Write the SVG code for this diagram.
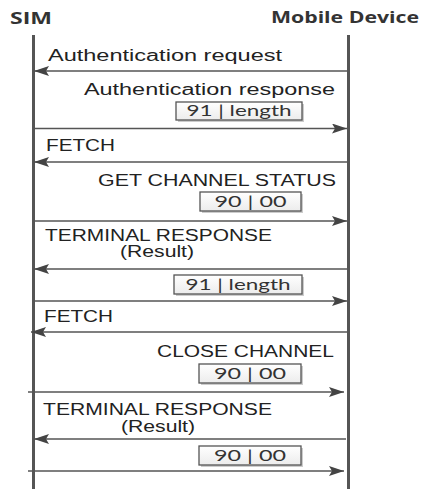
<svg xmlns="http://www.w3.org/2000/svg" width="425" height="489" viewBox="0 0 425 489">
<defs>
<marker id="ah" markerUnits="userSpaceOnUse" markerWidth="16" markerHeight="12" refX="15" refY="5" orient="auto">
<path d="M0,0 L15,5 L0,10 L3,5 z" fill="#444"/>
</marker>
<linearGradient id="bg" x1="0" y1="0" x2="0" y2="1">
<stop offset="0" stop-color="#ffffff"/>
<stop offset="1" stop-color="#ececec"/>
</linearGradient>
<style>
.hd{font-family:"Open Sans","DejaVu Sans",sans-serif;font-weight:700;font-size:16px;fill:#333}
.lbl{font-family:"Liberation Sans",Arial,sans-serif;font-size:16px;fill:#222}
.bx{font-family:Lato,"Liberation Sans",sans-serif;font-size:15px;fill:#333}
.life{stroke:#555;stroke-width:3}
.msg{stroke:#555;stroke-width:1.6;fill:none;marker-end:url(#ah)}
.box{fill:url(#bg);stroke:#555;stroke-width:1.3}
.sh{fill:#ccc}
</style>
</defs>
<rect width="425" height="489" fill="#fff"/>
<g id="sim">
<text class="hd" x="10" y="24" textLength="42" lengthAdjust="spacingAndGlyphs">SIM</text>
<line class="life" x1="33.5" y1="35" x2="33.5" y2="489"/>
</g>
<g id="mobile">
<text class="hd" x="271" y="23" textLength="148" lengthAdjust="spacingAndGlyphs">Mobile Device</text>
<line class="life" x1="348.5" y1="35" x2="348.5" y2="489"/>
</g>
<g id="connectors">
<line class="msg" x1="347" y1="71" x2="34" y2="71"/>
<line class="msg" x1="34" y1="128.5" x2="347" y2="128.5"/>
<line class="msg" x1="347" y1="162" x2="34" y2="162"/>
<line class="msg" x1="34" y1="221" x2="347" y2="221"/>
<line class="msg" x1="347" y1="269" x2="34" y2="269"/>
<line class="msg" x1="34" y1="301" x2="347" y2="301"/>
<line class="msg" x1="347" y1="332" x2="31" y2="332"/>
<line class="msg" x1="28" y1="392" x2="344" y2="392"/>
<line class="msg" x1="346" y1="439" x2="34" y2="439"/>
<line class="msg" x1="28" y1="471" x2="344" y2="471"/>
</g>
<g id="labels">
<text class="lbl" x="48" y="61" textLength="234" lengthAdjust="spacingAndGlyphs">Authentication request</text>
<text class="lbl" x="84" y="95" textLength="251" lengthAdjust="spacingAndGlyphs">Authentication response</text>
<text class="lbl" x="46" y="151" textLength="69" lengthAdjust="spacingAndGlyphs">FETCH</text>
<text class="lbl" x="98" y="186" textLength="238" lengthAdjust="spacingAndGlyphs">GET CHANNEL STATUS</text>
<text class="lbl" x="45" y="241" textLength="227" lengthAdjust="spacingAndGlyphs">TERMINAL RESPONSE</text>
<text class="lbl" x="120" y="257" textLength="74" lengthAdjust="spacingAndGlyphs">(Result)</text>
<text class="lbl" x="44" y="322" textLength="69" lengthAdjust="spacingAndGlyphs">FETCH</text>
<text class="lbl" x="157" y="357" textLength="177" lengthAdjust="spacingAndGlyphs">CLOSE CHANNEL</text>
<text class="lbl" x="43" y="415" textLength="229" lengthAdjust="spacingAndGlyphs">TERMINAL RESPONSE</text>
<text class="lbl" x="121" y="432" textLength="74" lengthAdjust="spacingAndGlyphs">(Result)</text>
</g>
<g id="box1">
<rect class="sh" x="178" y="104" width="126" height="18"/>
<rect class="box" x="176" y="102" width="126" height="18"/>
<text class="bx" x="239" y="116" text-anchor="middle" textLength="105" lengthAdjust="spacingAndGlyphs">91 | length</text>
</g>
<g id="box2">
<rect class="sh" x="202" y="194" width="101" height="19"/>
<rect class="box" x="200" y="192" width="101" height="19"/>
<text class="bx" x="250.5" y="207" text-anchor="middle" textLength="72" lengthAdjust="spacingAndGlyphs">90 | 00</text>
</g>
<g id="box3">
<rect class="sh" x="176" y="277" width="128" height="19"/>
<rect class="box" x="174" y="275" width="128" height="19"/>
<text class="bx" x="238" y="290" text-anchor="middle" textLength="105" lengthAdjust="spacingAndGlyphs">91 | length</text>
</g>
<g id="box4">
<rect class="sh" x="201" y="366" width="102" height="19"/>
<rect class="box" x="199" y="364" width="102" height="19"/>
<text class="bx" x="250" y="379" text-anchor="middle" textLength="72" lengthAdjust="spacingAndGlyphs">90 | 00</text>
</g>
<g id="box5">
<rect class="sh" x="201" y="448" width="102" height="19"/>
<rect class="box" x="199" y="446" width="102" height="19"/>
<text class="bx" x="250" y="461" text-anchor="middle" textLength="72" lengthAdjust="spacingAndGlyphs">90 | 00</text>
</g>
</svg>
